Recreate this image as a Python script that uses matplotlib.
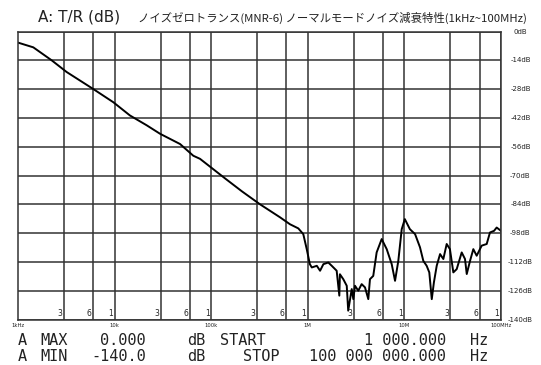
import matplotlib
matplotlib.use("Agg")
import matplotlib.pyplot as plt

# trace: frequency (Hz) and T/R (dB)
freq = [1000, 1440, 2230, 3190, 6030, 9710, 14400, 21500, 29500, 47600,
        65300, 76600, 139000, 208000, 320000, 515000, 654000, 797000, 898000, 975000,
        1.05e6, 1.10e6, 1.24e6, 1.34e6, 1.45e6, 1.63e6, 1.77e6, 1.99e6, 2.12e6, 2.15e6,
        2.33e6, 2.53e6, 2.62e6, 2.85e6, 2.96e6, 3.08e6, 3.33e6, 3.61e6, 3.91e6, 4.23e6,
        4.40e6, 4.76e6, 5.16e6, 5.82e6, 6.56e6, 7.39e6, 8.00e6, 8.65e6, 9.38e6, 1.01e7,
        1.14e7, 1.29e7, 1.45e7, 1.57e7, 1.70e7, 1.81e7, 1.92e7, 2.02e7, 2.16e7, 2.34e7,
        2.53e7, 2.74e7, 2.96e7, 3.21e7, 3.48e7, 3.92e7, 4.24e7, 4.42e7, 4.78e7, 5.17e7,
        5.60e7, 6.31e7, 7.11e7, 7.69e7, 8.47e7, 9.02e7, 1e8]
tr_db = [-5.4, -7.7, -14.0, -19.7, -28.0, -34.4, -40.8, -45.6, -49.7, -54.7,
         -60.4, -61.9, -71.4, -77.7, -84.0, -90.3, -93.7, -95.7, -98.5, -105.8,
         -113.1, -114.7, -113.9, -116.3, -113.1, -112.3, -113.9, -116.3, -128.4, -118.0,
         -120.4, -123.6, -135.7, -125.2, -130.1, -123.6, -126.0, -122.8, -124.4, -130.1,
         -120.4, -118.8, -107.4, -100.9, -105.8, -113.1, -121.2, -111.5, -96.1, -91.2,
         -96.1, -98.5, -104.9, -111.5, -113.9, -117.1, -130.1, -122.0, -113.9, -108.2,
         -110.6, -103.3, -105.8, -117.1, -115.5, -107.4, -110.6, -117.9, -111.5, -105.8,
         -109.0, -104.1, -103.3, -97.7, -96.9, -95.3, -96.9]

decades = [1e3, 1e4, 1e5, 1e6, 1e7, 1e8]
decade_labels = ["1kHz", "10k", "100k", "1M", "10M", "100MHz"]
grid_mult = [3, 6]
db_ticks = list(range(0, -141, -14))
db_labels = [f"{v}dB" for v in db_ticks]

ink = "#222222"

fig = plt.figure(figsize=(5.41, 3.65), dpi=100)
ax = fig.add_axes([18 / 541, 1 - 319.5 / 365, 483 / 541, 288 / 365])
ax.set_xscale("log")
ax.set_xlim(1e3, 1e8)
ax.set_ylim(-140, 0)

grid_freqs = []
for d in decades[:-1]:
    grid_freqs += [d * m for m in grid_mult] + [d * 10]
ax.set_xticks(grid_freqs)
ax.set_xticks([], minor=True)
ax.set_yticks(db_ticks)
ax.grid(True, color="#333333", lw=1.1)
ax.tick_params(length=0, labelbottom=False, labelleft=False)
for s in ax.spines.values():
    s.set_color("#333333")
    s.set_linewidth(1.1)

ax.plot(freq, tr_db, color="black", lw=1.4)

# little multiplier labels inside the bottom of the grid
for d in decades[:-1]:
    for m, lbl in [(3, "3"), (6, "6"), (10, "1")]:
        ax.annotate(lbl, (d * m, 0), xycoords=("data", "axes fraction"),
                    xytext=(-1.2, 0.8), textcoords="offset points",
                    ha="right", va="bottom", fontsize=5.5, color=ink)

for d, lbl in zip(decades, decade_labels):
    ax.annotate(lbl, (d, 0), xycoords=("data", "axes fraction"),
                xytext=(0, -2.5), textcoords="offset points",
                ha="center", va="top", fontsize=3.8, color=ink)

for v, lbl in zip(db_ticks, db_labels):
    ax.annotate(lbl, (1, v), xycoords=("axes fraction", "data"),
                xytext=(14, 0), textcoords="offset points",
                ha="center", va="center", fontsize=5, color=ink)

fig.text(38 / 541, 1 - 17 / 365, "A: T/R (dB)", fontsize=11, color=ink,
         ha="left", va="center")
fig.text(138 / 541, 1 - 18 / 365,
         "ノイズゼロトランス(MNR-6) ノーマルモードノイズ減衰特性(1kHz~100MHz)",
         fontsize=8.2, color=ink, ha="left", va="center",
         family=["Noto Sans CJK JP", "DejaVu Sans"])

# readout lines under the grid: (x, text, alignment)
row1 = [(18, "A", "left"), (40, "MAX", "left"), (146, "0.000", "right"),
        (187, "dB", "left"), (220, "START", "left"), (446, "1 000.000", "right"),
        (470, "Hz", "left")]
row2 = [(18, "A", "left"), (40, "MIN", "left"), (146, "-140.0", "right"),
        (187, "dB", "left"), (243, "STOP", "left"), (446, "100 000 000.000", "right"),
        (470, "Hz", "left")]
for y, row in [(345, row1), (361, row2)]:
    for x, s, ha in row:
        fig.text(x / 541, 1 - y / 365, s, fontsize=11, family="DejaVu Sans Mono",
                 color=ink, ha=ha, va="baseline")

fig.savefig("out.png", dpi=100)
